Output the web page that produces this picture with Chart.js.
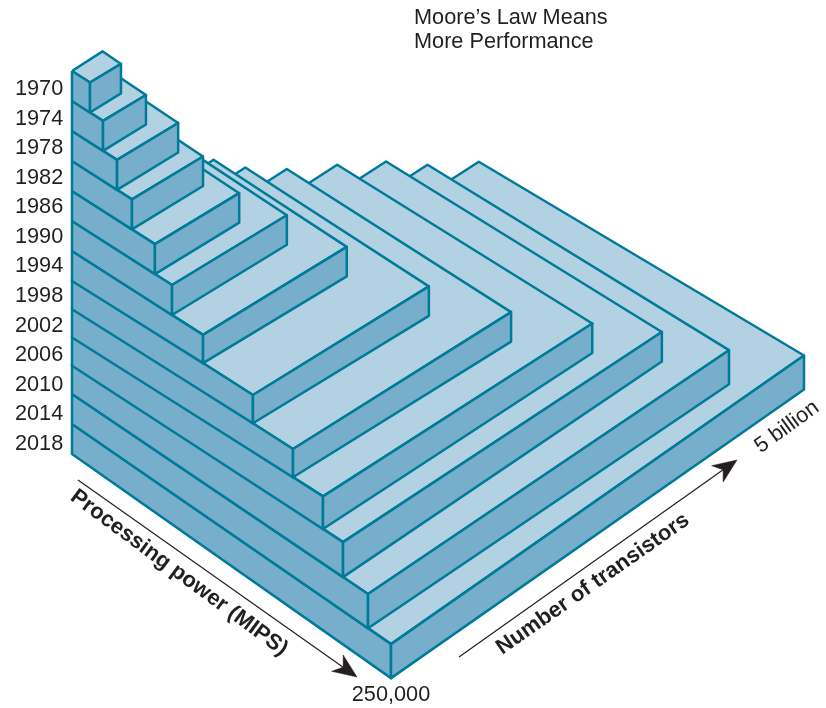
<!DOCTYPE html>
<html>
<head>
<meta charset="utf-8">
<style>html,body{margin:0;padding:0;background:#fff}canvas{display:block}</style>
<script src="https://cdn.jsdelivr.net/npm/chart.js@4/dist/chart.umd.js"></script>
</head>
<body>
<canvas id="c" width="826" height="708"></canvas>
<script>
// ---- data ----
const years = [1970,1974,1978,1982,1986,1990,1994,1998,2002,2006,2010,2014,2018];
const processingMips = [14100,24300,35300,47000,65000,78400,102700,141800,173200,196700,212400,232000,250000];
const transistorsBn = [0.375,0.52,0.74,0.86,1.02,1.39,1.74,2.13,2.64,3.26,3.86,4.37,5];
const titleLines = ["Moore\u2019s Law Means","More Performance"];
const mipsAxisTitle = "Processing power (MIPS)";
const transistorAxisTitle = "Number of transistors";
const mipsMaxLabel = "250,000";
const transistorMaxLabel = "5 billion";

// ---- oblique projection of (mips, transistors, year) ----
const COLORS = {top:"#b2d1e2", side:"#76aecc", edge:"#007a99", ink:"#231f20"};
const FONT = "'Liberation Sans', Arial, sans-serif";
const originX = 72, firstTop = 71, sideLeft = 30, baseFront = 34;
const uPx = m => m / 250000 * 319;
const vPx = t => t / 5 * 413;
function topOf(i){            // left corner of a layer's top face
  let y = firstTop;
  for (let k = 0; k < i; k++) y += (k >= 6 && k < 10) ? 28.25 : 30;
  return y;
}
const frontRise = u => 0.64*u + 0.235*Math.max(0, u - 251);
function frontOf(i){
  const u = uPx(processingMips[i]);
  return {x: originX + u, y: topOf(i) + frontRise(u)};
}
function layerCorners(i){
  const v = vPx(transistorsBn[i]), y = topOf(i);
  const left = {x: originX, y};
  const front = frontOf(i);
  const right = {x: front.x + v, y: front.y - (0.6*v + 5.8e-7*v*v*v)};
  const back = {x: originX + 0.985*v, y: y - 0.635*v};
  const down = (p, d) => ({x: p.x, y: p.y + d});
  // a layer's front foot rests on the top-left edge of the layer below it
  let foot;
  if (i < years.length - 1) {
    const n = frontOf(i + 1), ny = topOf(i + 1);
    foot = {x: front.x, y: ny + (n.y - ny) * (front.x - originX) / (n.x - originX)};
  } else {
    foot = down(front, baseFront);
  }
  const rightDepth = v > 340 ? 34 : 29.5;
  return {
    top: [left, front, right, back, left],
    leftFace: [left, front, foot, down(left, sideLeft), left],
    rightFace: [front, right, down(right, rightDepth), foot, front]
  };
}
function polygon(pts, fillColor){
  return {data: pts, showLine: true, fill: 'shape', backgroundColor: fillColor,
          borderColor: COLORS.edge, borderWidth: 2.5, borderJoinStyle: 'round',
          pointRadius: 0, tension: 0, clip: false};
}
function arrow(x0, y0, x1, y1){
  const L = Math.hypot(x1-x0, y1-y0), ax = (x1-x0)/L, ay = (y1-y0)/L;
  const at = (a, p) => ({x: x1 + a*ax - p*ay, y: y1 + a*ay + p*ax});
  const line = {data: [{x:x0,y:y0}, at(-17,0)], showLine: true, borderColor: COLORS.ink,
                borderWidth: 1.2, pointRadius: 0, tension: 0, clip: false};
  const head = {data: [at(0,0), at(-24,10), at(-17,0), at(-24,-10), at(0,0)], showLine: true,
                fill: 'shape', backgroundColor: COLORS.ink, borderColor: COLORS.ink,
                borderWidth: 0.5, pointRadius: 0, tension: 0, clip: false};
  return [line, head];
}

const datasets = [];
for (let i = years.length - 1; i >= 0; i--) {
  const c = layerCorners(i);
  datasets.push(polygon(c.top, COLORS.top), polygon(c.leftFace, COLORS.side), polygon(c.rightFace, COLORS.side));
}
datasets.push(...arrow(78,480,357,677), ...arrow(459,657,737,460));
datasets.forEach((d, i) => d.order = -i);

const annotationText = {
  id: 'annotationText',
  afterDraw(chart){
    const {ctx} = chart;
    const put = (s, x, y, angle, font, align) => {
      ctx.save();
      ctx.translate(x, y); ctx.rotate(angle * Math.PI / 180);
      ctx.font = font; ctx.fillStyle = COLORS.ink;
      ctx.textAlign = align; ctx.textBaseline = 'middle';
      ctx.fillText(s, 0, 0);
      ctx.restore();
    };
    const reg = "21.7px " + FONT, bold = "bold 22px " + FONT;
    put(titleLines[0], 414, 18, 0, reg, 'left');
    put(titleLines[1], 414, 42, 0, reg, 'left');
    put(mipsAxisTitle, 179, 573, 36.5, bold, 'center');
    put(transistorAxisTitle, 593, 584, -35, bold, 'center');
    put(mipsMaxLabel, 391, 695, 0, reg, 'center');
    put(transistorMaxLabel, 787, 427, -36, reg, 'center');
  }
};

new Chart(document.getElementById('c'), {
  type: 'scatter',
  data: {datasets},
  options: {
    responsive: false, animation: false,
    layout: {padding: 0},
    plugins: {legend: {display: false}, tooltip: {enabled: false}, title: {display: false}},
    scales: {
      x: {type: 'linear', min: 0, max: 826, display: false},
      y: {
        type: 'linear', min: 0, max: 708, reverse: true, position: 'left',
        grid: {display: false, drawTicks: false}, border: {display: false},
        afterBuildTicks: s => { s.ticks = years.map((_, i) => ({value: 89 + 29.58*i})); },
        afterFit: s => { s.width = 0; s.paddingTop = 0; s.paddingBottom = 0; s.paddingLeft = 0; s.paddingRight = 0; },
        ticks: {mirror: true, padding: 15, autoSkip: false, maxRotation: 0,
                color: COLORS.ink, font: {family: FONT, size: 21.7},
                callback: (v, i) => String(years[i])}
      }
    }
  },
  plugins: [annotationText]
});
</script>
</body>
</html>
